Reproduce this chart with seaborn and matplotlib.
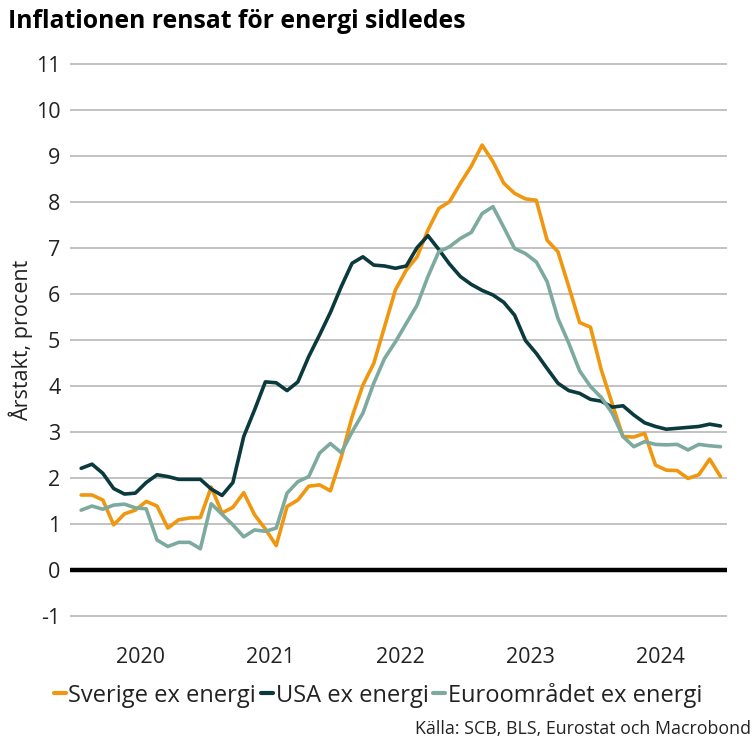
import matplotlib
matplotlib.use("Agg")
import matplotlib.pyplot as plt
import seaborn as sns
import pandas as pd
import numpy as np
from matplotlib.lines import Line2D

# ---- data (monthly, Jan 2020 - Dec 2024) ----
years = ["2020", "2021", "2022", "2023", "2024"]
series_names = ["Sverige ex energi", "USA ex energi", "Euroområdet ex energi"]

sverige = [1.63, 1.63, 1.52, 0.98, 1.22, 1.30, 1.49, 1.39, 0.91, 1.09, 1.13, 1.14,
           1.80, 1.24, 1.36, 1.68, 1.20, 0.89, 0.53, 1.38, 1.52, 1.82, 1.85, 1.72,
           2.45, 3.33, 4.02, 4.49, 5.29, 6.09, 6.52, 6.81, 7.39, 7.86, 8.01, 8.41,
           8.78, 9.24, 8.88, 8.41, 8.19, 8.07, 8.04, 7.17, 6.92, 6.16, 5.38, 5.28,
           4.35, 3.62, 2.90, 2.89, 2.97, 2.28, 2.17, 2.16, 1.99, 2.07, 2.41, 2.03]

usa = [2.21, 2.30, 2.10, 1.77, 1.65, 1.67, 1.90, 2.07, 2.03, 1.97, 1.97, 1.97,
       1.76, 1.62, 1.90, 2.90, 3.48, 4.09, 4.07, 3.90, 4.09, 4.64, 5.11, 5.60,
       6.16, 6.67, 6.81, 6.63, 6.61, 6.56, 6.61, 7.01, 7.27, 6.97, 6.65, 6.38,
       6.21, 6.08, 5.98, 5.82, 5.54, 4.99, 4.71, 4.38, 4.06, 3.90, 3.84, 3.71,
       3.67, 3.54, 3.57, 3.37, 3.20, 3.12, 3.06, 3.08, 3.10, 3.12, 3.17, 3.13]

euro = [1.30, 1.39, 1.32, 1.41, 1.43, 1.35, 1.33, 0.65, 0.51, 0.60, 0.60, 0.46,
        1.44, 1.21, 0.98, 0.72, 0.87, 0.84, 0.91, 1.67, 1.92, 2.03, 2.54, 2.75,
        2.55, 3.00, 3.41, 4.06, 4.60, 4.96, 5.36, 5.76, 6.38, 6.92, 7.03, 7.21,
        7.34, 7.75, 7.90, 7.45, 6.99, 6.88, 6.70, 6.27, 5.47, 4.93, 4.33, 3.99,
        3.75, 3.41, 2.90, 2.68, 2.79, 2.73, 2.72, 2.73, 2.61, 2.73, 2.70, 2.68]

colors = ["#F0960F", "#0B3A3E", "#7DAA9F"]

months = np.arange(len(sverige))
df = pd.DataFrame({
    "m": np.concatenate([months] * 3),
    "value": sverige + usa + euro,
    "series": np.repeat(series_names, len(months)),
})

sns.set_theme(style="white")
plt.rcParams["font.family"] = ["Open Sans", "DejaVu Sans"]

fig = plt.figure(figsize=(7.56, 7.56), dpi=100)
ax = fig.add_axes([70 / 756, 1 - 632 / 756, 657 / 756, (632 - 60) / 756])

# grid lines
for v in range(-1, 12):
    if v != 0:
        ax.axhline(v, color="#BDBDBD", lw=1.3, zorder=0)
ax.axhline(0, color="black", lw=3.2, zorder=1)

sns.lineplot(data=df, x="m", y="value", hue="series", hue_order=series_names,
             palette=colors, linewidth=2.6, legend=False, ax=ax, zorder=3)

ax.set_xlim(-1.03, 59.6)
ax.set_ylim(-1.35, 11.09)
ax.set_yticks(range(-1, 12))
ax.set_yticklabels([str(v) for v in range(-1, 12)], fontsize=15.5)
ax.tick_params(axis="y", length=5, width=1, color="#9A9A9A", pad=2, labelcolor="#222222")

year_bounds = [-0.5 + 12 * i for i in range(len(years) + 1)]
ax.set_xticks(year_bounds)
ax.set_xticklabels([""] * len(year_bounds))
ax.set_xticks([5.5 + 12 * i for i in range(len(years))], minor=True)
ax.set_xticklabels(years, minor=True, fontsize=15.5, color="#222222")
ax.tick_params(axis="x", which="major", length=5, width=1, color="#9A9A9A")
ax.tick_params(axis="x", which="minor", length=0, pad=11)

for s in ax.spines.values():
    s.set_visible(False)
ax.set_xlabel("")
ax.set_ylabel("Årstakt, procent", fontsize=15.5, color="#222222")
ax.yaxis.set_label_coords(-0.056, 0.51)

fig.text(8 / 756, 1 - 22 / 756, "Inflationen rensat för energi sidledes",
         fontsize=17.8, fontweight="bold", ha="left", va="center", color="black")

handles = [Line2D([0], [0], color=c, lw=3) for c in colors]
fig.legend(handles, series_names, loc="center", bbox_to_anchor=(378 / 756, 1 - 695 / 756),
           ncol=3, frameon=False, fontsize=17, handlelength=0.5, handletextpad=0.12,
           columnspacing=0.2, labelcolor="#222222")

fig.text(751 / 756, 1 - 729 / 756, "Källa: SCB, BLS, Eurostat och Macrobond",
         fontsize=12.8, ha="right", va="center", color="#222222")

fig.savefig("out.png", dpi=100)
